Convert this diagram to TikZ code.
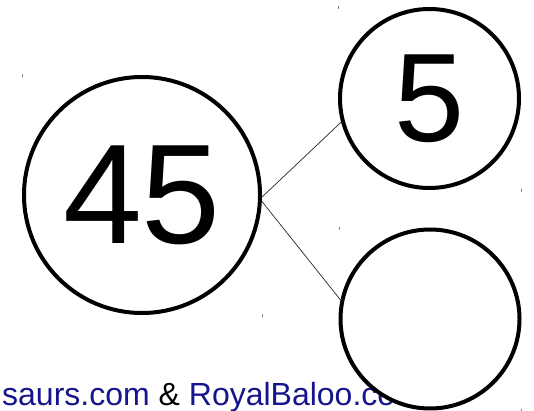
\documentclass[tikz,border=0pt]{standalone}
\usepackage{fontspec}
\setmainfont{Liberation Sans}
\usepackage{xcolor}
\usepackage{tikz}
\definecolor{linkblue}{RGB}{22,22,140}

\begin{document}
\begin{tikzpicture}[x=1pt,y=-1pt,
    bubble/.style={circle,draw,fill=white,line width=4pt,inner sep=0pt},
    branch/.style={line width=0.7pt,black!85},
    tickmark/.style={gray,line width=0.8pt}
]
\useasboundingbox (0,0) rectangle (534,411);
% credit line, half hidden under the lower bubble
\node[anchor=base west,inner sep=0pt,font=\fontsize{32}{32}\selectfont] (credit) at (2,405.5)
    {\textcolor{linkblue}{saurs.com} \& \textcolor{linkblue}{RoyalBaloo.co}};
\node[bubble,minimum size=236pt,font=\fontsize{142}{142}\selectfont] (whole) at (142,195) {45};
\node[bubble,minimum size=179pt,font=\fontsize{126}{126}\selectfont] (part) at (429.5,98.5) {5};
\node[bubble,minimum size=179pt] (missing) at (430,319) {};
\draw[branch] (whole.-1) -- (part.195);
\draw[branch] (whole.-3) -- (missing.168);
% small marks at the box corners
\foreach \x/\y in {22/74,262/314,338/6,521/189,339/227,521/409}
    \draw[tickmark] (\x,\y) -- ++(0,3);
\end{tikzpicture}
\end{document}
